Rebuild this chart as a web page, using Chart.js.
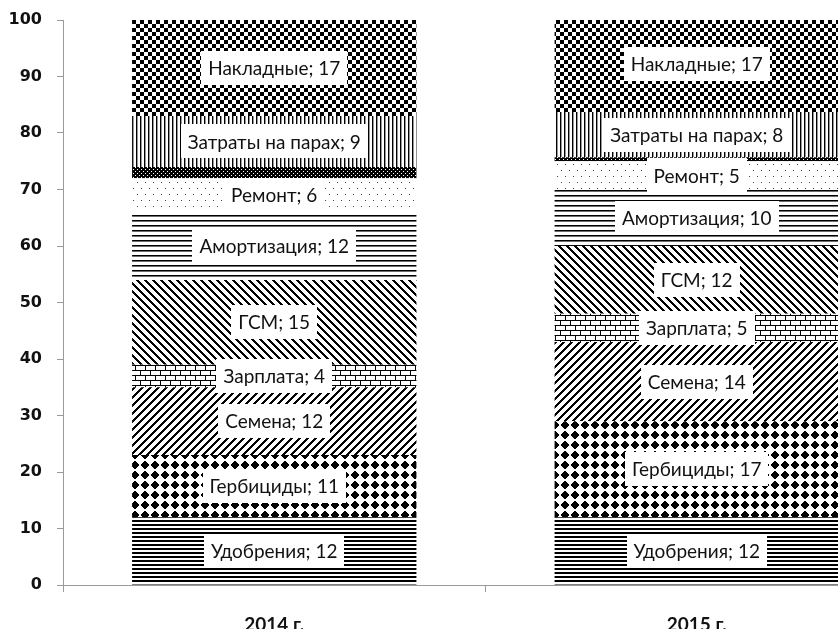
<!DOCTYPE html>
<html lang="ru">
<head>
<meta charset="utf-8">
<title>Структура затрат, %</title>
<script src="https://cdn.jsdelivr.net/npm/chart.js@4/dist/chart.umd.min.js"></script>
<style>
  html, body { margin: 0; padding: 0; background: #fff; overflow: hidden; }
  #wrap { position: absolute; left: 0; top: 0; width: 912px; height: 660px; }
</style>
</head>
<body>
<div id="wrap"><canvas id="c" width="912" height="660"></canvas></div>
<script>
// Cost structure by year, percent of total
const years = ['2014 г.', '2015 г.'];
const seriesNames = ['Удобрения', 'Гербициды', 'Семена', 'Зарплата', 'ГСМ',
                     'Амортизация', 'Ремонт', 'Прочие', 'Затраты на парах', 'Накладные'];
const fertilizers  = [12, 12];
const herbicides   = [11, 17];
const seeds        = [12, 14];
const wages        = [4, 5];
const fuel         = [15, 12];
const depreciation = [12, 10];
const repairs      = [6, 5];
const other        = [2, 0.7];
const fallowCosts  = [9, 8];
const overheads    = [17, 17];
// which series carry a value label
const labelled = [true, true, true, true, true, true, true, false, true, true];

const yMin = 0, yMax = 100, yStep = 10;

const canvas = document.getElementById('c');
const ctx = canvas.getContext('2d');

// Build a repeating black/white fill from a per-pixel rule
function pixelPattern(w, h, rule) {
  const t = document.createElement('canvas');
  t.width = w; t.height = h;
  const g = t.getContext('2d');
  const img = g.createImageData(w, h);
  for (let y = 0; y < h; y++) {
    for (let x = 0; x < w; x++) {
      const v = rule(x, y); // 0 = black ... 255 = white
      const k = (y * w + x) * 4;
      img.data[k] = img.data[k + 1] = img.data[k + 2] = v;
      img.data[k + 3] = 255;
    }
  }
  g.putImageData(img, 0, 0);
  return ctx.createPattern(t, 'repeat');
}

const B = 0, W = 255;
const fills = [
  // horizontal lines, dense
  pixelPattern(1, 4, (x, y) => (y < 2 ? B : W)),
  // diamonds
  pixelPattern(10, 10, (x, y) => {
    const d = Math.abs(x + 0.5 - 5) + Math.abs(y + 0.5 - 5);
    return d <= 4.6 ? B : W;
  }),
  // wide upward diagonal
  pixelPattern(8, 8, (x, y) => (((x + y) % 8) < 3 ? B : W)),
  // horizontal brick
  pixelPattern(10, 10, (x, y) => ((y % 5 === 0) || (y < 5 && x === 0) || (y >= 5 && x === 5)) ? B : W),
  // wide downward diagonal
  pixelPattern(8, 8, (x, y) => ((((x - y) % 8) + 8) % 8 < 3 ? B : W)),
  // horizontal lines, light
  pixelPattern(1, 5, (x, y) => (y === 0 ? B : (y === 1 ? 110 : W))),
  // sparse dots
  pixelPattern(8, 12, (x, y) => ((x === 1 && y === 2) || (x === 5 && y === 8)) ? 70 : W),
  // dark grid
  pixelPattern(4, 4, (x, y) => ((x === 1 && y === 1) || (x === 3 && y === 3)) ? W : B),
  // vertical lines
  pixelPattern(4, 1, (x) => (x === 0 ? B : (x === 1 ? 150 : W))),
  // small checkerboard
  pixelPattern(8, 8, (x, y) => ((Math.floor(x / 4) + Math.floor(y / 4)) % 2 === 0 ? B : W))
];

const seriesValues = [fertilizers, herbicides, seeds, wages, fuel,
                      depreciation, repairs, other, fallowCosts, overheads];

const datasets = seriesValues.map((vals, i) => ({
  label: seriesNames[i],
  data: vals,
  backgroundColor: fills[i],
  borderWidth: 0,
  showValue: labelled[i],
  barPercentage: 1,
  categoryPercentage: 0.673
}));

// White-boxed "name; value" labels centred on each segment
const segmentLabels = {
  id: 'segmentLabels',
  afterDatasetsDraw(chart) {
    const c = chart.ctx;
    c.save();
    c.font = '19px Lato, "Open Sans", sans-serif';
    c.textAlign = 'center';
    c.textBaseline = 'middle';
    chart.data.datasets.forEach((ds, i) => {
      if (!ds.showValue) return;
      chart.getDatasetMeta(i).data.forEach((bar, j) => {
        const p = bar.getProps(['x', 'y', 'base'], true);
        const cy = (p.y + p.base) / 2;
        const text = ds.label + '; ' + ds.data[j];
        const w = Math.round(c.measureText(text).width + 14);
        const h = 34;
        c.fillStyle = '#fff';
        c.fillRect(Math.round(p.x - w / 2), Math.round(cy - h / 2), w, h);
        c.fillStyle = '#111';
        c.fillText(text, p.x, cy + 1);
      });
    });
    c.restore();
  }
};

const axisGray = '#9a9a9a';

new Chart(ctx, {
  type: 'bar',
  data: { labels: years, datasets },
  plugins: [segmentLabels],
  options: {
    responsive: false,
    devicePixelRatio: 1,
    animation: false,
    layout: { padding: { top: 20, right: 4, left: 0, bottom: 0 } },
    plugins: { legend: { display: false }, tooltip: { enabled: false } },
    scales: {
      x: {
        stacked: true,
        afterFit: (s) => { s.height = 75; s.paddingLeft = 0; s.paddingRight = 0; },
        grid: { display: true, drawOnChartArea: false, drawTicks: true, tickLength: 7, color: axisGray, offset: true },
        border: { display: true, color: axisGray, width: 1 },
        ticks: { color: '#111', font: { family: 'Lato, "Open Sans", sans-serif', size: 19, weight: 'bold' }, padding: 21 }
      },
      y: {
        stacked: true,
        min: yMin,
        max: yMax,
        afterFit: (s) => { s.width = 63; s.paddingTop = 0; s.paddingBottom = 0; },
        grid: { display: true, drawOnChartArea: false, drawTicks: true, tickLength: 6, color: axisGray },
        border: { display: true, color: axisGray, width: 1 },
        ticks: { stepSize: yStep, color: '#111', padding: 15,
                 font: { family: '"DejaVu Sans", sans-serif', size: 16, weight: 'bold' } }
      }
    }
  }
});
</script>
</body>
</html>
